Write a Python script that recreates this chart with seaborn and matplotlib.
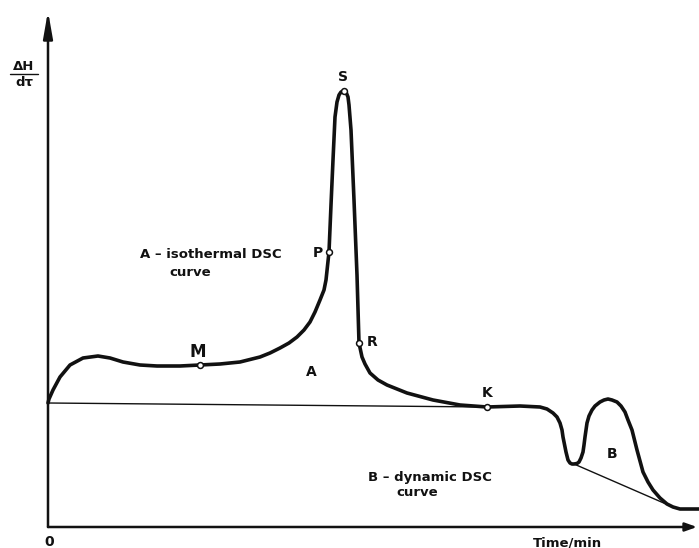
import numpy as np
import pandas as pd
import matplotlib
matplotlib.use("Agg")
import matplotlib.pyplot as plt
import seaborn as sns

# DSC trace: time (arbitrary units) and heat flow dH/dtau (arbitrary units)
time = [0.0, 0.1, 0.5, 1.2, 2.2, 3.5, 5.0, 6.2, 7.5, 9.2,
        10.9, 13.2, 15.2, 17.2, 19.2, 21.2, 22.2, 23.2, 24.1, 24.9,
        25.6, 26.2, 26.7, 27.2, 27.6, 27.8, 28.1, 28.3, 28.5, 28.7,
        28.9, 29.1, 29.3, 29.6, 29.8, 30.0, 30.1, 30.3, 30.6, 30.9,
        31.1, 31.4, 31.7, 32.2, 33.0, 33.9, 35.9, 38.5, 41.2, 43.9,
        47.2, 49.2, 49.9, 50.5, 50.9, 51.2, 51.4, 51.5, 51.6, 51.8,
        52.0, 52.2, 52.4, 52.6, 52.9, 53.1, 53.3, 53.5, 53.6, 53.7,
        53.8, 53.9, 54.1, 54.4, 54.7, 55.2, 55.6, 56.0, 56.4, 56.9,
        57.3, 57.7, 58.0, 58.4, 58.6, 58.9, 59.2, 59.5, 60.0, 60.5,
        61.2, 61.9, 62.5, 63.2, 65.1]
heat = [12.4, 12.8, 13.7, 15.0, 16.2, 16.9, 17.1, 16.9, 16.5, 16.2,
        16.1, 16.1, 16.2, 16.3, 16.5, 17.0, 17.4, 17.9, 18.4, 19.0,
        19.7, 20.5, 21.5, 22.7, 23.7, 24.7, 27.5, 32.2, 36.7, 41.0,
        42.5, 43.2, 43.5, 43.6, 43.5, 43.0, 42.2, 39.7, 32.7, 25.2,
        18.4, 17.0, 16.3, 15.4, 14.7, 14.2, 13.4, 12.7, 12.2, 12.0,
        12.1, 12.0, 11.8, 11.4, 11.0, 10.4, 9.7, 9.0, 8.5, 7.5,
        6.7, 6.4, 6.3, 6.3, 6.35, 6.5, 6.9, 7.5, 8.2, 9.0,
        9.7, 10.4, 11.1, 11.7, 12.1, 12.5, 12.7, 12.8, 12.7, 12.5,
        12.1, 11.5, 10.7, 9.7, 8.9, 7.7, 6.6, 5.5, 4.5, 3.7,
        2.9, 2.3, 2.0, 1.8, 1.8]

# characteristic points on the curve
point_names = ["M", "P", "S", "R", "K"]
point_time = [15.2, 28.1, 29.6, 31.1, 43.9]
point_heat = [16.2, 27.5, 43.6, 18.4, 12.0]

# baselines under peaks A and B
base_a_time = [0.0, 43.9]
base_a_heat = [12.4, 12.0]
base_b_time = [52.6, 61.8]
base_b_heat = [6.3, 2.3]

sns.set_style("white")
plt.rcParams["font.family"] = ["DejaVu Sans"]

fig = plt.figure(figsize=(6.99, 5.48), dpi=100)
ax = fig.add_axes([0, 0, 1, 1])
ax.set_xlim(-4.8, 65.1)
ax.set_ylim(-2.1, 52.7)
ax.axis("off")

curve = pd.DataFrame({"time": time, "heat": heat})
sns.lineplot(data=curve, x="time", y="heat", sort=False, estimator=None,
             color="#111111", lw=2.6, ax=ax,
             solid_joinstyle="round", solid_capstyle="round")

for bt, bh in [(base_a_time, base_a_heat), (base_b_time, base_b_heat)]:
    sns.lineplot(x=bt, y=bh, sort=False, estimator=None, color="#111111",
                 lw=1.0, ax=ax)

sns.scatterplot(x=point_time, y=point_heat, s=18, color="white",
                edgecolor="#111111", linewidth=1.1, zorder=5, ax=ax)

# axes drawn as arrows
ax.annotate("", xy=(0, 51.6), xytext=(0, 0),
            arrowprops=dict(arrowstyle="-|>,head_length=1.6,head_width=0.28",
                            color="#111111", lw=1.8, shrinkA=0, shrinkB=0))
ax.annotate("", xy=(64.9, 0), xytext=(0, 0),
            arrowprops=dict(arrowstyle="-|>,head_length=0.7,head_width=0.25",
                            color="#111111", lw=1.8, shrinkA=0, shrinkB=0))

tk = dict(color="#111111", fontweight="bold")
label_pos = {"M": (15.0, 17.5, 12), "P": (27.0, 27.4, 10), "S": (29.5, 45.0, 10),
             "R": (32.4, 18.5, 10), "K": (43.9, 13.4, 10)}
for name in point_names:
    lx, ly, fs = label_pos[name]
    ax.text(lx, ly, name, ha="center", va="center", fontsize=fs, **tk)

ax.text(26.3, 15.5, "A", ha="center", va="center", fontsize=10, **tk)
ax.text(56.4, 7.3, "B", ha="center", va="center", fontsize=10, **tk)
ax.text(9.2, 27.2, "A \u2013 isothermal DSC", ha="left", va="center", fontsize=9.5, **tk)
ax.text(12.1, 25.5, "curve", ha="left", va="center", fontsize=9.5, **tk)
ax.text(32.0, 4.9, "B \u2013 dynamic DSC", ha="left", va="center", fontsize=9.5, **tk)
ax.text(34.8, 3.4, "curve", ha="left", va="center", fontsize=9.5, **tk)
ax.text(0.1, -1.5, "0", ha="center", va="center", fontsize=10, **tk)
ax.text(51.9, -1.6, "Time/min", ha="center", va="center", fontsize=9.5, **tk)

# y-axis quantity as a stacked fraction
ax.text(-2.4, 46.1, "\u0394H", ha="center", va="center", fontsize=9.5, **tk)
ax.plot([-3.8, -1.0], [45.3, 45.3], color="#111111", lw=1.0)
ax.text(-2.4, 44.4, "d\u03c4", ha="center", va="center", fontsize=9.5, **tk)

fig.savefig("out.png", dpi=100)
